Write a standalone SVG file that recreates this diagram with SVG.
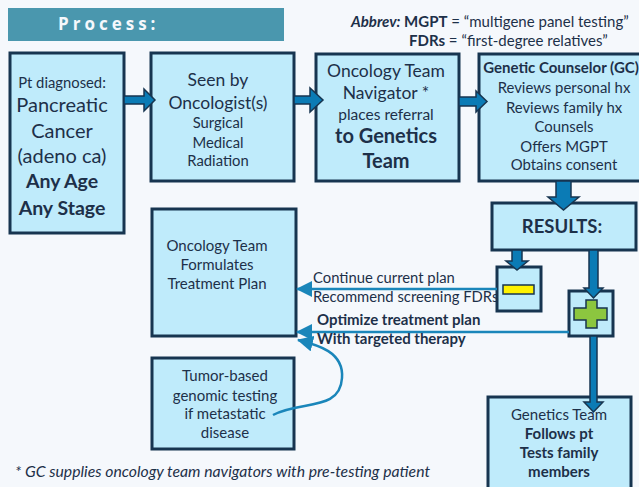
<svg xmlns="http://www.w3.org/2000/svg" width="639" height="487" viewBox="0 0 639 487">
<defs>
<style>
.bg{fill:#F5F8FC}
.box{fill:#BFEBFB;stroke:#173550;stroke-width:3}
.t{font-family:Lato,"Liberation Sans",sans-serif;fill:#1D3049;text-anchor:middle}
.tl{font-family:Lato,"Liberation Sans",sans-serif;fill:#1D3049}
.b{font-weight:bold}
.blk{fill:#0B7BB5;stroke:#173550;stroke-width:1.5;stroke-linejoin:miter}
.con{fill:none;stroke:#1A86BA;stroke-width:2.5}
</style>
<marker id="ah" viewBox="0 0 16 16" refX="15" refY="8" markerWidth="16" markerHeight="16" markerUnits="userSpaceOnUse" orient="auto">
<path d="M0,0 L16,8 L0,16 Z" fill="#1A86BA"/>
</marker>
</defs>
<rect class="bg" x="0" y="0" width="639" height="487"/>

<g id="header">
<rect x="8" y="8" width="276" height="33" fill="#4A97AE"/>
<text x="58" y="30" font-family="'Open Sans','Liberation Sans',sans-serif" font-weight="bold" font-size="17" letter-spacing="4" fill="#F5F8FC">Process:</text>
</g>

<g id="abbrev">
<text class="tl" x="351" y="27" font-size="15"><tspan font-weight="bold" font-style="italic">Abbrev:</tspan><tspan font-weight="bold"> MGPT</tspan> = “multigene panel testing”</text>
<text class="tl" x="409" y="46" font-size="15"><tspan font-weight="bold">FDRs</tspan> = “first-degree relatives”</text>
</g>

<g id="node-diagnosed">
<rect class="box" x="10" y="53" width="114" height="180"/>
<text class="t" x="62" y="88" font-size="14.8">Pt diagnosed:</text>
<text class="t" x="62" y="112" font-size="20">Pancreatic</text>
<text class="t" x="62" y="138" font-size="20">Cancer</text>
<text class="t" x="62" y="163" font-size="20">(adeno ca)</text>
<text class="t b" x="62" y="188" font-size="19.5">Any Age</text>
<text class="t b" x="62" y="215" font-size="19.5">Any Stage</text>
</g>

<g id="node-oncologist">
<rect class="box" x="151" y="53" width="143" height="128"/>
<text class="t" x="218" y="86" font-size="17.5">Seen by</text>
<text class="t" x="218" y="109" font-size="17.5">Oncologist(s)</text>
<text class="t" x="218" y="128" font-size="14.8">Surgical</text>
<text class="t" x="218" y="148" font-size="14.8">Medical</text>
<text class="t" x="218" y="166" font-size="14.8">Radiation</text>
</g>

<g id="node-navigator">
<rect class="box" x="316" y="54" width="143" height="127"/>
<text class="t" x="386" y="77" font-size="17.5">Oncology Team</text>
<text class="t" x="386" y="99" font-size="17.5">Navigator *</text>
<text class="t" x="386" y="120" font-size="15.5">places referral</text>
<text class="t b" x="386" y="143" font-size="20">to Genetics</text>
<text class="t b" x="386" y="168" font-size="20">Team</text>
</g>

<g id="node-counselor">
<rect class="box" x="479" y="54" width="166" height="127"/>
<text class="t b" x="561" y="73" font-size="15">Genetic Counselor (GC)</text>
<text class="t" x="564" y="93" font-size="14.9">Reviews personal hx</text>
<text class="t" x="564" y="113" font-size="14.9">Reviews family hx</text>
<text class="t" x="564" y="132" font-size="14.9">Counsels</text>
<text class="t" x="564" y="152" font-size="14.9">Offers MGPT</text>
<text class="t" x="564" y="170" font-size="14.9">Obtains consent</text>
</g>

<g id="node-results">
<rect class="box" x="492" y="203" width="144" height="47"/>
<text class="t b" x="562" y="233" font-size="18.5">RESULTS:</text>
</g>

<g id="node-negative">
<rect class="box" x="497" y="267" width="44" height="44"/>
<rect x="503" y="285" width="31" height="9" fill="#FFF200" stroke="#173550" stroke-width="1.5"/>
</g>

<g id="node-positive">
<rect class="box" x="569" y="291" width="44" height="45"/>
<path d="M586,300 H597 V308 H607 V320 H597 V328 H586 V320 H574 V308 H586 Z" fill="#8CC63F" stroke="#173550" stroke-width="1.5"/>
</g>

<g id="node-formulates">
<rect class="box" x="152" y="209" width="144" height="127"/>
<text class="t" x="217" y="251" font-size="15">Oncology Team</text>
<text class="t" x="217" y="270" font-size="15">Formulates</text>
<text class="t" x="217" y="289" font-size="15">Treatment Plan</text>
</g>

<g id="node-tumor">
<rect class="box" x="152" y="358" width="142" height="91"/>
<text class="t" x="225" y="381" font-size="15">Tumor-based</text>
<text class="t" x="225" y="401" font-size="15">genomic testing</text>
<text class="t" x="225" y="419" font-size="15">if metastatic</text>
<text class="t" x="225" y="438" font-size="15">disease</text>
</g>

<g id="node-genetics">
<rect class="box" x="488" y="397" width="143" height="100"/>
<text class="t" x="559" y="420" font-size="15">Genetics Team</text>
<text class="t b" x="559" y="439" font-size="15">Follows pt</text>
<text class="t b" x="559" y="458" font-size="15">Tests family</text>
<text class="t b" x="559" y="477" font-size="15">members</text>
</g>

<g id="connectors">
<path class="blk" d="M124,96 H144 V89 L155,100 L144,111 V104 H124 Z"/>
<path class="blk" d="M294,96 H310 V88 L323,100 L310,112 V104 H294 Z"/>
<path class="blk" d="M459,97 H476 V91 L487,101.5 L476,112 V106 H459 Z"/>
<path class="blk" d="M556,181 V197 H548 L563.5,210 L579,197 H571 V181 Z"/>
<path class="blk" d="M512,250 V261 H506 L517,270 L528,261 H522 V250 Z"/>
<path class="blk" d="M589,250 V288 H584 L593.5,298 L603,288 H598 V250 Z"/>
<path class="blk" d="M590,336 V402 H584 L593.5,412 L603,402 H597 V336 Z"/>
<path class="con" d="M497,289 H297" marker-end="url(#ah)"/>
<path class="con" d="M569,332 H297" marker-end="url(#ah)"/>
<path class="con" d="M273,415 C300,400 340,412 342,378 C344,352 318,345 298,340" marker-end="url(#ah)"/>
</g>

<g id="labels">
<text class="tl" x="313" y="283" font-size="14.8">Continue current plan</text>
<text class="tl" x="313" y="302" font-size="14.8">Recommend screening FDRs</text>
<text class="tl b" x="317" y="325" font-size="15">Optimize treatment plan</text>
<text class="tl b" x="317" y="344" font-size="15">With targeted therapy</text>
</g>

<g id="footnote">
<text class="tl" x="15" y="477" font-size="15.5" font-style="italic" textLength="415" lengthAdjust="spacingAndGlyphs">* GC supplies oncology team navigators with pre-testing patient</text>
</g>
</svg>
